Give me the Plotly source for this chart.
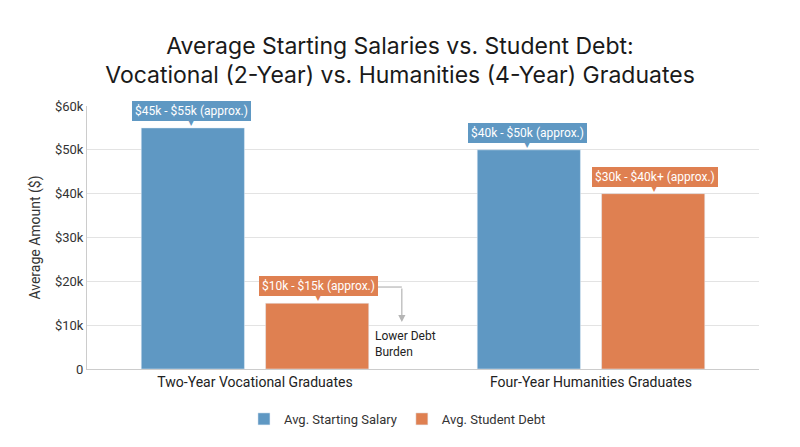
import plotly.graph_objects as go

categories = ["Two-Year Vocational Graduates", "Four-Year Humanities Graduates"]
salary = [55000, 50000]
debt = [15000, 40000]
salary_labels = ["$45k - $55k (approx.)", "$40k - $50k (approx.)"]
debt_labels = ["$10k - $15k (approx.)", "$30k - $40k+ (approx.)"]
tick_vals = [0, 10000, 20000, 30000, 40000, 50000, 60000]
tick_text = ["0", "$10k", "$20k", "$30k", "$40k", "$50k", "$60k"]

BLUE = "#5f98c3"
ORANGE = "#df8051"

fig = go.Figure()
fig.add_trace(go.Bar(name="Avg. Starting Salary", x=categories, y=salary,
                     marker_color=BLUE, hoverinfo="y"))
fig.add_trace(go.Bar(name="Avg. Student Debt", x=categories, y=debt,
                     marker_color=ORANGE, hoverinfo="y"))

# callout labels above bars (offset to each bar's position in its group)
offsets = [-0.19, 0.19]
for series, labels, color, off in [(salary, salary_labels, BLUE, offsets[0]),
                                   (debt, debt_labels, ORANGE, offsets[1])]:
    for i, (v, lab) in enumerate(zip(series, labels)):
        fig.add_annotation(x=i + off, y=v, text=lab, showarrow=False,
                           xref="x", yref="y", yanchor="bottom", yshift=7,
                           bgcolor=color, borderpad=3, borderwidth=0,
                           font=dict(family="Roboto", size=12, color="white"))
        fig.add_annotation(x=i + off, y=v, text="▼", showarrow=False,
                           xref="x", yref="y", yanchor="bottom", yshift=-1,
                           font=dict(family="DejaVu Sans", size=8, color=color))

# "Lower Debt Burden" elbow note
fig.add_shape(type="line", xref="x", yref="y", x0=0.365, x1=0.437,
              y0=18700, y1=18700, line=dict(color="#b5b5b5", width=1.2))
fig.add_annotation(x=0.437, y=10700, ax=0.437, ay=18700, axref="x", ayref="y",
                   xref="x", yref="y", text="", showarrow=True, arrowhead=2,
                   arrowsize=1.2, arrowwidth=1.2, arrowcolor="#b5b5b5")
fig.add_annotation(x=0.352, y=5600, xref="x", yref="y", text="Lower Debt<br>Burden",
                   showarrow=False, xanchor="left", align="left",
                   font=dict(family="Roboto", size=12, color="#222"))

fig.update_layout(
    title=dict(text="Average Starting Salaries vs. Student Debt:<br>Vocational (2-Year) vs. Humanities (4-Year) Graduates",
               x=0.49, xanchor="center", y=0.898, yanchor="middle",
               font=dict(family="Inter", size=23, color="#1a1a1a")),
    width=800, height=447,
    margin=dict(l=79, r=49, t=98, b=86, autoexpand=False),
    plot_bgcolor="white", paper_bgcolor="white",
    barmode="group", bargap=0.26, bargroupgap=0.17,
    font=dict(family="Roboto", size=13, color="#333"),
    showlegend=True,
    legend=dict(orientation="h", x=0.462, xanchor="center", y=-0.19, yanchor="middle",
                font=dict(family="Roboto", size=13, color="#333"), itemwidth=30,
                traceorder="normal"),
    xaxis=dict(showgrid=False, showline=True, linecolor="#cccccc", ticks="",
               range=[-0.5, 1.5], tickfont=dict(size=14, color="#222"), automargin=False),
    yaxis=dict(range=[0, 60000], tickvals=tick_vals, ticktext=tick_text,
               showgrid=True, gridcolor="#e3e3e3", gridwidth=1,
               showline=True, linecolor="#cccccc", zeroline=False, automargin=False,
               title=dict(text="Average Amount ($)", font=dict(size=14, color="#333"), standoff=10),
               tickfont=dict(size=13, color="#333")),
)

fig.write_html("out.html")
